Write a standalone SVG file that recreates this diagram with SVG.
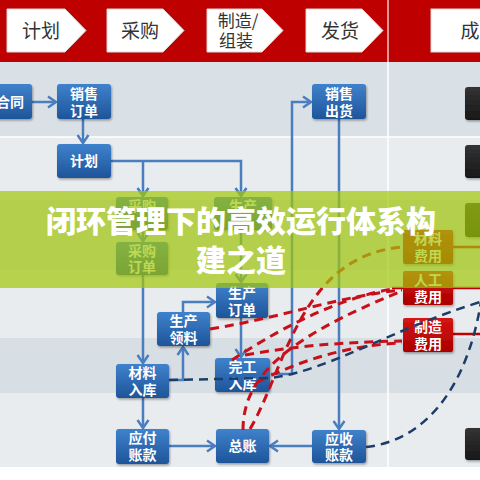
<svg xmlns="http://www.w3.org/2000/svg" width="480" height="480" viewBox="0 0 480 480">
<defs>
<linearGradient id="gBlue" x1="0" y1="0" x2="0" y2="1"><stop offset="0" stop-color="#3f82cc"/><stop offset="1" stop-color="#1e5499"/></linearGradient>
<linearGradient id="gRed" x1="0" y1="0" x2="0" y2="1"><stop offset="0" stop-color="#d41414"/><stop offset="1" stop-color="#aa0000"/></linearGradient>
<linearGradient id="gDark" x1="0" y1="0" x2="0" y2="1"><stop offset="0" stop-color="#333"/><stop offset="1" stop-color="#181818"/></linearGradient>
<filter id="sh" x="-20%" y="-20%" width="140%" height="150%"><feDropShadow dx="1" dy="1.5" stdDeviation="1.2" flood-color="#000" flood-opacity="0.35"/></filter>
<marker id="arr" markerUnits="userSpaceOnUse" markerWidth="14" markerHeight="14" refX="10" refY="7" orient="auto"><path d="M2,1.5 L10,7 L2,12.5" fill="none" stroke="#4a7ebf" stroke-width="2.5"/></marker>
<style>
.hd{fill:#fff;stroke:#d9d9d9;stroke-width:1}
.ht{font-family:"Noto Sans CJK SC","Noto Sans",sans-serif;font-size:19px;fill:#333;text-anchor:middle}
.nb{fill:url(#gBlue);filter:url(#sh)}
.nr{fill:url(#gRed);filter:url(#sh)}
.nd{fill:url(#gDark);filter:url(#sh)}
.nt{font-family:"Noto Sans CJK SC","Noto Sans",sans-serif;font-size:14px;font-weight:bold;fill:#fff;text-anchor:middle}
.c{fill:none;stroke:#4a7ebf;stroke-width:2.5}
.ca{fill:none;stroke:#4a7ebf;stroke-width:2.5;marker-end:url(#arr)}
.rd{fill:none;stroke:#c8101a;stroke-width:3;stroke-dasharray:9 6}
.nv{fill:none;stroke:#1e3d66;stroke-width:2.5;stroke-dasharray:9 6}
.rs{fill:none;stroke:#c00000;stroke-width:2.5}
.tt{font-family:"Noto Sans CJK SC","Noto Sans",sans-serif;font-size:30px;font-weight:900;fill:#fff;text-anchor:middle}
</style>
</defs>
<!-- lanes -->
<rect x="0" y="0" width="480" height="480" fill="#ffffff"/>
<rect x="0" y="62" width="480" height="75" fill="#dae1e6"/>
<rect x="0" y="137" width="480" height="63" fill="#e8ecef"/>
<rect x="0" y="200" width="480" height="70" fill="#dae1e6"/>
<rect x="0" y="270" width="480" height="68" fill="#e8ecef"/>
<rect x="0" y="338" width="480" height="55" fill="#d8dfe4"/>
<rect x="0" y="393" width="480" height="74" fill="#e8ecef"/>
<line x1="0" y1="137" x2="480" y2="137" stroke="#fff" stroke-width="1.5"/>
<line x1="388" y1="62" x2="388" y2="467" stroke="#fff" stroke-width="1.5"/>
<!-- header -->
<rect x="0" y="0" width="480" height="62" fill="#be0000"/>
<line x1="388" y1="0" x2="388" y2="62" stroke="#f0c8c8" stroke-width="1.5"/>
<g id="h1"><polygon class="hd" points="7,9 65,9 86,30.5 65,52 7,52"/><text class="ht" x="41" y="38">计划</text></g>
<g id="h2"><polygon class="hd" points="107,9 163,9 184,30.5 163,52 107,52"/><text class="ht" x="140" y="38">采购</text></g>
<g id="h3"><polygon class="hd" points="207,9 262,9 283,30.5 262,52 207,52"/><text class="ht" x="238" y="27" style="font-size:17px">制造/</text><text class="ht" x="236" y="47" style="font-size:17px">组装</text></g>
<g id="h4"><polygon class="hd" points="306,9 362,9 383,30.5 362,52 306,52"/><text class="ht" x="340" y="38">发货</text></g>
<g id="h5"><rect class="hd" x="431" y="9" width="60" height="43"/><text class="ht" x="470" y="38">成</text></g>
<!-- connectors -->
<g id="connectors">
<path class="ca" d="M32,102 H56"/>
<path class="ca" d="M83,119 V143"/>
<path class="ca" d="M111,161 H241 V196"/>
<path class="ca" d="M143,161 V196"/>
<path class="ca" d="M143,230 V241"/>
<path class="ca" d="M143,275 V363"/>
<path class="ca" d="M241,230 V282"/>
<path class="ca" d="M169,380 H183 V347"/>
<path class="ca" d="M183,312 V302 H215"/>
<path class="ca" d="M241,318 V357"/>
<path class="ca" d="M143,398 V428"/>
<path class="ca" d="M169,446 H215"/>
<path class="ca" d="M312,446 H270"/>
<path class="ca" d="M271,374 H292 V102 H311"/>
<path class="ca" d="M339,119 V429"/>
<path class="rs" d="M453,247 H480"/>
<path class="rs" d="M392,288 H480"/>
<path class="rs" d="M453,334 H480"/>
</g>
<!-- nodes -->
<g id="n-hetong"><rect class="nb" x="-20" y="84" width="52" height="35" rx="3"/><text class="nt" x="10" y="107">合同</text></g>
<g id="n-xsdd"><rect class="nb" x="57" y="84" width="54" height="35" rx="3"/><text class="nt" x="84" y="98.5">销售</text><text class="nt" x="84" y="115.5">订单</text></g>
<g id="n-jihua"><rect class="nb" x="57" y="144" width="54" height="34" rx="3"/><text class="nt" x="84" y="166">计划</text></g>
<g id="n-cg"><rect class="nb" x="116" y="197" width="52" height="33" rx="3"/><text class="nt" x="142" y="211">采购</text></g>
<g id="n-cgdd"><rect class="nb" x="116" y="242" width="52" height="33" rx="3"/><text class="nt" x="142" y="256">采购</text><text class="nt" x="142" y="272">订单</text></g>
<g id="n-sc"><rect class="nb" x="214" y="197" width="58" height="33" rx="3"/><text class="nt" x="243" y="211">生产</text></g>
<g id="n-scdd"><rect class="nb" x="216" y="283" width="52" height="35" rx="3"/><text class="nt" x="242" y="297.5">生产</text><text class="nt" x="242" y="314.5">订单</text></g>
<g id="n-scll"><rect class="nb" x="157" y="312" width="53" height="34" rx="3"/><text class="nt" x="183.5" y="326">生产</text><text class="nt" x="183.5" y="343">领料</text></g>
<g id="n-clrk"><rect class="nb" x="116" y="364" width="53" height="34" rx="3"/><text class="nt" x="142.5" y="378">材料</text><text class="nt" x="142.5" y="395">入库</text></g>
<g id="n-wgrk"><rect class="nb" x="215" y="358" width="55" height="34" rx="3"/><text class="nt" x="242.5" y="372">完工</text><text class="nt" x="242.5" y="389">入库</text></g>
<g id="n-yfzk"><rect class="nb" x="116" y="429" width="53" height="35" rx="3"/><text class="nt" x="142.5" y="443">应付</text><text class="nt" x="142.5" y="460">账款</text></g>
<g id="n-zz"><rect class="nb" x="216" y="429" width="53" height="34" rx="3"/><text class="nt" x="242.5" y="451">总账</text></g>
<g id="n-yszk"><rect class="nb" x="312" y="430" width="54" height="33" rx="3"/><text class="nt" x="339" y="444">应收</text><text class="nt" x="339" y="460">账款</text></g>
<g id="n-xsch"><rect class="nb" x="312" y="84" width="54" height="35" rx="3"/><text class="nt" x="339" y="98.5">销售</text><text class="nt" x="339" y="115.5">出货</text></g>
<g id="n-clfy"><rect class="nr" x="403" y="230" width="50" height="34" rx="2"/><text class="nt" x="428" y="244">材料</text><text class="nt" x="428" y="261">费用</text></g>
<g id="n-rgfy"><rect class="nr" x="403" y="271" width="50" height="34" rx="2"/><text class="nt" x="428" y="285">人工</text><text class="nt" x="428" y="302">费用</text></g>
<g id="n-zzfy"><rect class="nr" x="403" y="318" width="50" height="34" rx="2"/><text class="nt" x="428" y="332">制造</text><text class="nt" x="428" y="349">费用</text></g>
<g id="n-d1"><rect class="nd" x="465" y="87" width="30" height="33" rx="3"/></g>
<g id="n-d2"><rect class="nd" x="465" y="145" width="30" height="33" rx="3"/></g>
<g id="n-d3"><rect class="nd" x="465" y="203" width="30" height="34" rx="3"/></g>
<g id="n-d4"><rect class="nd" x="465" y="428" width="30" height="32" rx="3"/></g>
<!-- dashed flows -->
<g id="dashed">
<path class="rd" d="M210,329 C280,318 340,296 402,290"/>
<path class="rd" d="M243,430 C243,380 280,340 402,291"/>
<path class="rd" d="M250,429 C285,370 300,255 403,247"/>
<path class="rd" d="M232,360 C270,335 330,300 392,289"/>
<path class="rd" d="M245,355 C300,345 350,342 402,341"/>
<path class="rd" d="M258,382 C300,360 350,345 402,343"/>
<path class="nv" d="M169,380 L271,378 C330,370 390,330 480,302"/>
<path class="nv" d="M366,447 C430,440 470,380 482,295"/>
</g>
<!-- title band -->
<rect x="0" y="191" width="480" height="97" fill="#a3c709" opacity="0.7"/>
<g id="title"><text class="tt" x="241" y="232">闭环管理下的高效运行体系构</text><text class="tt" x="241" y="271">建之道</text></g>
</svg>
